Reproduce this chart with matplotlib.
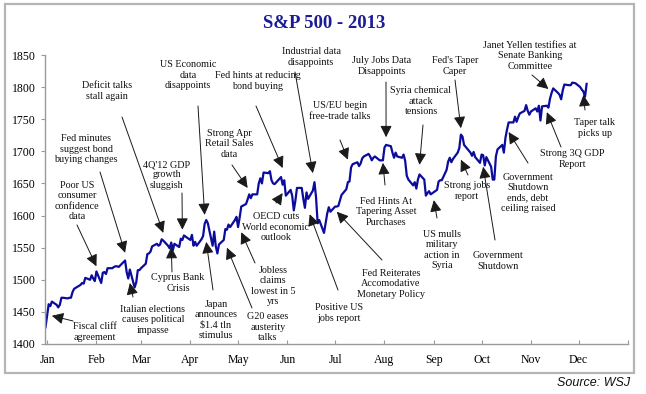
import matplotlib
matplotlib.use('Agg')
import matplotlib.pyplot as plt
import matplotlib.patches as patches
import pandas as pd

# S&P 500 daily closes (2013, plus the last close of 2012)
dates = [
    '2012-12-31',
    '2013-01-02', '2013-01-03', '2013-01-04', '2013-01-07', '2013-01-08', '2013-01-09', '2013-01-10',
    '2013-01-11', '2013-01-14', '2013-01-15', '2013-01-16', '2013-01-17', '2013-01-18', '2013-01-22',
    '2013-01-23', '2013-01-24', '2013-01-25', '2013-01-28', '2013-01-29', '2013-01-30', '2013-01-31',
    '2013-02-01', '2013-02-04', '2013-02-05', '2013-02-06', '2013-02-07', '2013-02-08', '2013-02-11',
    '2013-02-12', '2013-02-13', '2013-02-14', '2013-02-15', '2013-02-19', '2013-02-20', '2013-02-21',
    '2013-02-22', '2013-02-25', '2013-02-26', '2013-02-27', '2013-02-28',
    '2013-03-01', '2013-03-04', '2013-03-05', '2013-03-06', '2013-03-07', '2013-03-08', '2013-03-11',
    '2013-03-12', '2013-03-13', '2013-03-14', '2013-03-15', '2013-03-18', '2013-03-19', '2013-03-20',
    '2013-03-21', '2013-03-22', '2013-03-25', '2013-03-26', '2013-03-27', '2013-03-28',
    '2013-04-01', '2013-04-02', '2013-04-03', '2013-04-04', '2013-04-05', '2013-04-08', '2013-04-09',
    '2013-04-10', '2013-04-11', '2013-04-12', '2013-04-15', '2013-04-16', '2013-04-17', '2013-04-18',
    '2013-04-19', '2013-04-22', '2013-04-23', '2013-04-24', '2013-04-25', '2013-04-26', '2013-04-29',
    '2013-04-30',
    '2013-05-01', '2013-05-02', '2013-05-03', '2013-05-06', '2013-05-07', '2013-05-08', '2013-05-09',
    '2013-05-10', '2013-05-13', '2013-05-14', '2013-05-15', '2013-05-16', '2013-05-17', '2013-05-20',
    '2013-05-21', '2013-05-22', '2013-05-23', '2013-05-24', '2013-05-28', '2013-05-29', '2013-05-30',
    '2013-05-31',
    '2013-06-03', '2013-06-04', '2013-06-05', '2013-06-06', '2013-06-07', '2013-06-10', '2013-06-11',
    '2013-06-12', '2013-06-13', '2013-06-14', '2013-06-17', '2013-06-18', '2013-06-19', '2013-06-20',
    '2013-06-21', '2013-06-24', '2013-06-25', '2013-06-26', '2013-06-27', '2013-06-28',
    '2013-07-01', '2013-07-02', '2013-07-03', '2013-07-05', '2013-07-08', '2013-07-09', '2013-07-10',
    '2013-07-11', '2013-07-12', '2013-07-15', '2013-07-16', '2013-07-17', '2013-07-18', '2013-07-19',
    '2013-07-22', '2013-07-23', '2013-07-24', '2013-07-25', '2013-07-26', '2013-07-29', '2013-07-30',
    '2013-07-31',
    '2013-08-01', '2013-08-02', '2013-08-05', '2013-08-06', '2013-08-07', '2013-08-08', '2013-08-09',
    '2013-08-12', '2013-08-13', '2013-08-14', '2013-08-15', '2013-08-16', '2013-08-19', '2013-08-20',
    '2013-08-21', '2013-08-22', '2013-08-23', '2013-08-26', '2013-08-27', '2013-08-28', '2013-08-29',
    '2013-08-30',
    '2013-09-03', '2013-09-04', '2013-09-05', '2013-09-06', '2013-09-09', '2013-09-10', '2013-09-11',
    '2013-09-12', '2013-09-13', '2013-09-16', '2013-09-17', '2013-09-18', '2013-09-19', '2013-09-20',
    '2013-09-23', '2013-09-24', '2013-09-25', '2013-09-26', '2013-09-27', '2013-09-30',
    '2013-10-01', '2013-10-02', '2013-10-03', '2013-10-04', '2013-10-07', '2013-10-08', '2013-10-09',
    '2013-10-10', '2013-10-11', '2013-10-14', '2013-10-15', '2013-10-16', '2013-10-17', '2013-10-18',
    '2013-10-21', '2013-10-22', '2013-10-23', '2013-10-24', '2013-10-25', '2013-10-28', '2013-10-29',
    '2013-10-30', '2013-10-31',
    '2013-11-01', '2013-11-04', '2013-11-05', '2013-11-06', '2013-11-07', '2013-11-08', '2013-11-11',
    '2013-11-12', '2013-11-13', '2013-11-14', '2013-11-15', '2013-11-18', '2013-11-19', '2013-11-20',
    '2013-11-21', '2013-11-22', '2013-11-25', '2013-11-26', '2013-11-27', '2013-11-29',
    '2013-12-02', '2013-12-03', '2013-12-04', '2013-12-05', '2013-12-06',
]
closes = [
    1426,
    1462, 1459, 1466, 1461, 1457, 1461, 1472,
    1472, 1471, 1472, 1472, 1481, 1486, 1492,
    1495, 1494, 1503, 1500, 1507, 1502, 1498,
    1513, 1495, 1511, 1512, 1509, 1518, 1518,
    1520, 1521, 1521, 1520, 1530, 1512, 1502,
    1516, 1488, 1496, 1515, 1515,
    1518, 1525, 1540, 1541, 1544, 1552, 1556,
    1553, 1555, 1563, 1561, 1553, 1549, 1558,
    1546, 1556, 1551, 1564, 1562, 1569,
    1562, 1570, 1553, 1559, 1553, 1563, 1568,
    1587, 1593, 1588, 1553, 1575, 1552, 1541,
    1555, 1562, 1579, 1578, 1586, 1582, 1593,
    1598,
    1582, 1597, 1614, 1618, 1625, 1633, 1627,
    1633, 1633, 1650, 1658, 1650, 1667, 1666,
    1669, 1655, 1650, 1649, 1660, 1648, 1655,
    1631,
    1640, 1631, 1608, 1623, 1643, 1643, 1626,
    1612, 1636, 1626, 1639, 1652, 1628, 1588,
    1593, 1573, 1588, 1603, 1613, 1606,
    1614, 1614, 1615, 1632, 1641, 1652, 1653,
    1675, 1680, 1683, 1677, 1681, 1689, 1692,
    1696, 1692, 1686, 1690, 1692, 1686, 1686,
    1686,
    1706, 1710, 1708, 1698, 1690, 1698, 1692,
    1690, 1695, 1685, 1662, 1656, 1647, 1652,
    1642, 1656, 1664, 1656, 1631, 1635, 1638,
    1633,
    1640, 1653, 1655, 1655, 1671, 1684, 1690,
    1683, 1688, 1698, 1705, 1726, 1723, 1710,
    1701, 1698, 1693, 1699, 1691, 1682,
    1695, 1694, 1678, 1691, 1676, 1656, 1656,
    1692, 1703, 1710, 1698, 1721, 1734, 1745,
    1745, 1754, 1746, 1753, 1759, 1763, 1772,
    1763, 1757,
    1762, 1767, 1762, 1771, 1748, 1770, 1771,
    1768, 1782, 1791, 1798, 1791, 1788, 1781,
    1795, 1804, 1803, 1803, 1807, 1806,
    1800, 1796, 1793, 1785, 1805,
]

month_labels = ['Jan', 'Feb', 'Mar', 'Apr', 'May', 'Jun',
                'Jul', 'Aug', 'Sep', 'Oct', 'Nov', 'Dec']
y_ticks = [1400, 1450, 1500, 1550, 1600, 1650, 1700, 1750, 1800, 1850]

# events: label and the point on the line the arrow points to
note_labels = [
    'Fiscal cliff\nagreement',
    'Poor US\nconsumer\nconfidence\ndata',
    'Fed minutes\nsuggest bond\nbuying changes',
    'Deficit talks\nstall again',
    'Italian elections\ncauses political\nimpasse',
    "4Q'12 GDP\ngrowth\nsluggish",
    'Cyprus Bank\nCrisis',
    'US Economic\ndata\ndisappoints',
    'Japan\nannounces\n$1.4 tln\nstimulus',
    'G20 eases\nausterity\ntalks',
    'Jobless\nclaims\nlowest in 5\nyrs',
    'Strong Apr\nRetail Sales\ndata',
    'Fed hints at reducing\nbond buying',
    'OECD cuts\nWorld economic\noutlook',
    'Industrial data\ndisappoints',
    'Positive US\njobs report',
    'Fed Reiterates\nAccomodative\nMonetary Policy',
    'US/EU begin\nfree-trade talks',
    'Fed Hints At\nTapering Asset\nPurchases',
    'July Jobs Data\nDisappoints',
    'Syria chemical\nattack\ntensions',
    'US mulls\nmilitary\naction in\nSyria',
    "Fed's Taper\nCaper",
    'Strong jobs\nreport',
    'Government\nShutdown',
    'Government\nShutdown\nends, debt\nceiling raised',
    'Strong 3Q GDP\nReport',
    'Janet Yellen testifies at\nSenate Banking\nCommittee',
    'Taper talk\npicks up',
]
note_tips = [
    ('2013-01-04', 1444), ('2013-02-01', 1521), ('2013-02-19', 1542), ('2013-03-15', 1573),
    ('2013-02-22', 1495), ('2013-03-27', 1578), ('2013-03-20', 1551), ('2013-04-10', 1601),
    ('2013-04-11', 1559), ('2013-04-24', 1550), ('2013-05-03', 1574), ('2013-05-07', 1643),
    ('2013-05-29', 1674), ('2013-05-29', 1635), ('2013-06-17', 1666), ('2013-06-15', 1602),
    ('2013-07-02', 1606), ('2013-07-09', 1687), ('2013-07-31', 1682), ('2013-08-02', 1722),
    ('2013-08-23', 1679), ('2013-09-01', 1624), ('2013-09-18', 1736), ('2013-09-18', 1687),
    ('2013-10-02', 1676), ('2013-10-18', 1730), ('2013-11-11', 1761), ('2013-11-12', 1797),
    ('2013-12-04', 1788),
]

# layout: text centre and arrow tail in pixels from the top-left corner
note_text_px = [
    (95, 332), (77, 201), (86, 149), (107, 91), (153, 320), (167, 175), (178, 283),
    (188, 75), (216, 320), (268, 327), (273, 286), (229, 144), (258, 81), (276, 227),
    (311, 57), (339, 313), (391, 284), (340, 111), (386, 212), (382, 66), (421, 101),
    (442, 250), (455, 66), (467, 191), (498, 261), (528, 193), (572, 159), (530, 56),
    (595, 128),
]
note_tail_px = [
    (73, 321), (77, 225), (100, 172), (122, 117), (133, 297), (182, 193), (172, 272),
    (198, 106), (213, 290), (252, 308), (255, 263), (232, 165), (256, 106), (276, 203),
    (295, 72), (338, 290), (382, 260), (340, 140), (385, 185), (386, 82), (423, 125),
    (437, 218), (455, 80), (468, 175), (495, 240), (528, 163), (561, 147), (532, 75),
    (585, 110),
]

W, H = 646, 394
plt.rcParams['font.family'] = ['Liberation Serif', 'DejaVu Serif']

fig = plt.figure(figsize=(W / 100, H / 100), dpi=100)
fig.patch.set_facecolor('white')

# grey frame round the whole chart
frame = patches.Rectangle((5 / W, 21 / H), 629 / W, 369 / H, transform=fig.transFigure,
                          fill=False, ec='#b5b5b5', lw=1.6)
fig.patches.append(frame)

ax = fig.add_axes([45.5 / W, 50 / H, 582.5 / W, 289 / H])

x = pd.to_datetime(dates)
ax.plot(x, closes, color='#0c0c9c', lw=1.6, solid_joinstyle='round')

ax.set_ylim(1400, 1850)
ax.set_xlim(pd.Timestamp('2012-12-31'), pd.Timestamp('2014-01-01'))

month_starts = pd.date_range('2013-01-01', periods=13, freq='MS')
ax.set_xticks(month_starts)
ax.set_xticklabels(month_labels + [''])
ax.set_yticks(y_ticks)

for s in ['top', 'right']:
    ax.spines[s].set_visible(False)
for s in ['left', 'bottom']:
    ax.spines[s].set_color('#9a9a9a')
    ax.spines[s].set_linewidth(1.0)
ax.tick_params(axis='y', direction='out', length=3, color='#9a9a9a', labelsize=8.5, pad=4)
ax.tick_params(axis='x', direction='in', length=3, color='#9a9a9a', labelsize=8.5, pad=7)

for label, tip, tpos, tail in zip(note_labels, note_tips, note_text_px, note_tail_px):
    fig.text(tpos[0] / W, 1 - tpos[1] / H, label, ha='center', va='center',
             multialignment='center', fontsize=7.3, color='#111111', linespacing=1.18)
    ax.annotate('', xy=(pd.Timestamp(tip[0]), tip[1]), xycoords='data',
                xytext=(tail[0], H - tail[1]), textcoords='figure pixels',
                arrowprops=dict(arrowstyle='-|>,head_length=0.7,head_width=0.35',
                                color='#1a1a1a', lw=0.7, mutation_scale=10,
                                shrinkA=0, shrinkB=0))

fig.text(324 / W, 1 - 24 / H, 'S&P 500 - 2013', ha='center', va='center',
         fontsize=13.5, fontweight='bold', color='#1c1c96')

fig.text(630 / W, 1 - 383 / H, 'Source: WSJ', ha='right', va='center',
         fontsize=9, style='italic', family=['Liberation Sans', 'DejaVu Sans'], color='#111111')

fig.savefig('out.png', dpi=100)
